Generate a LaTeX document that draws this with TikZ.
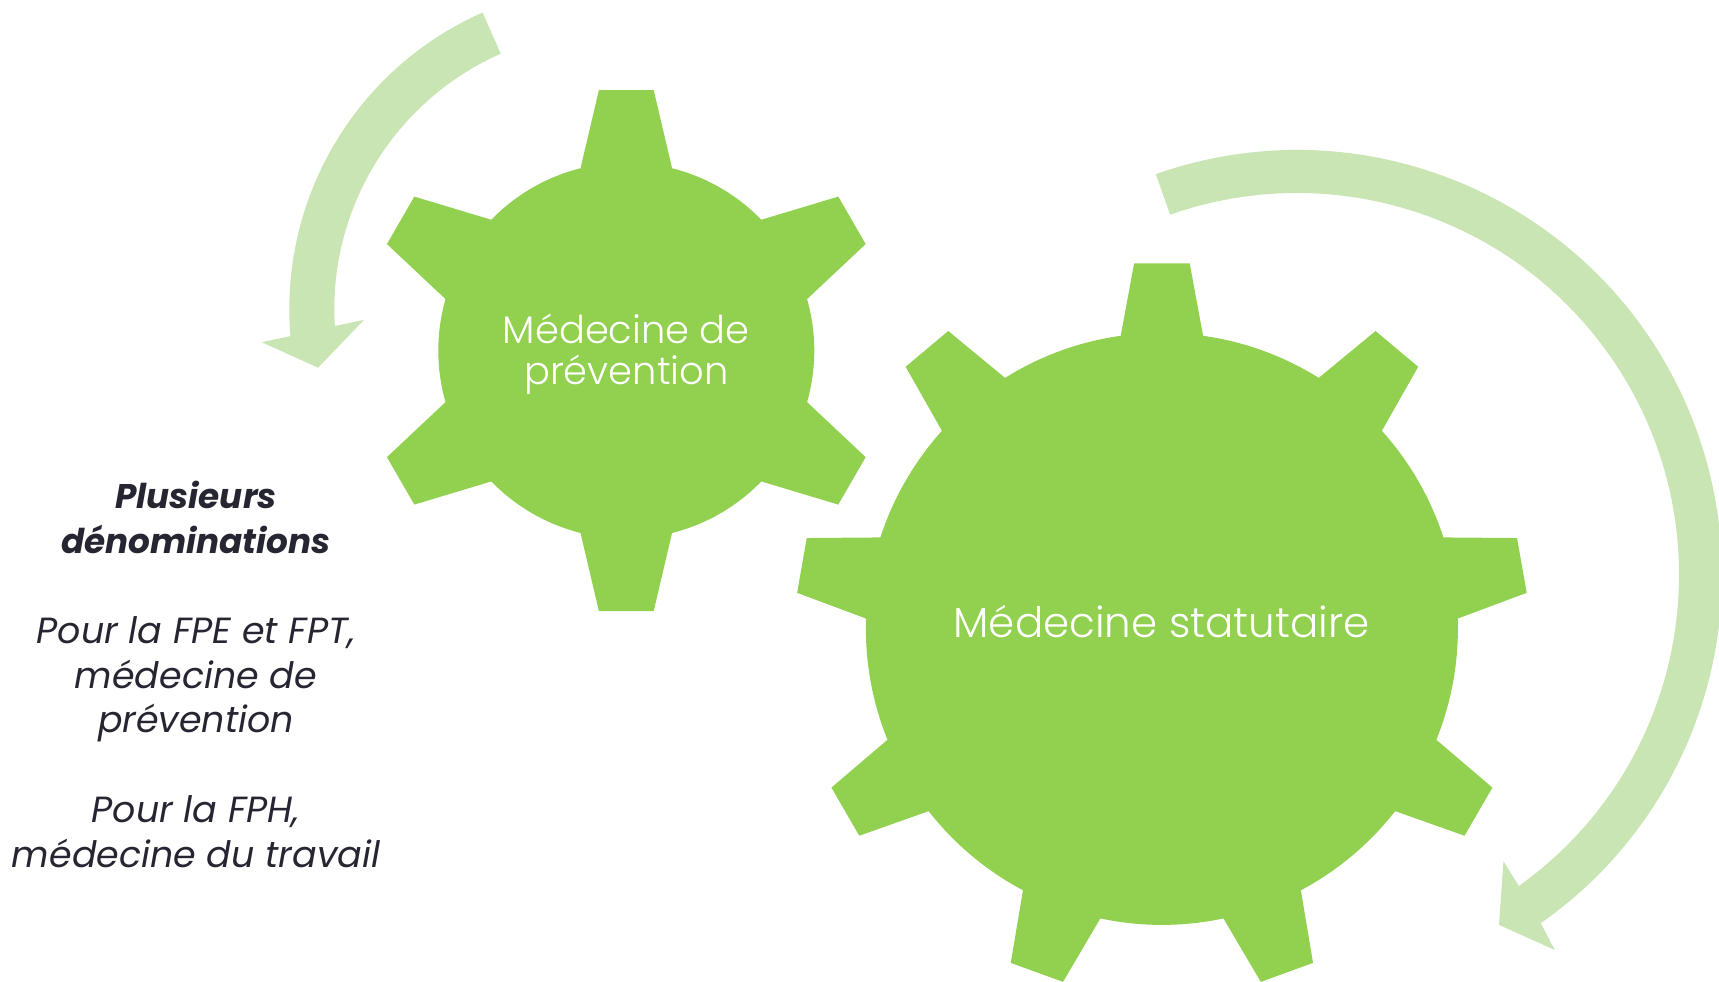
\documentclass[tikz,border=0pt]{standalone}
\usepackage{fontspec}
\setmainfont{Poppins}
\newfontfamily\gearfont{Poppins Light}
\usetikzlibrary{calc}

\definecolor{geargreen}{RGB}{146,208,80}
\definecolor{cyclegreen}{RGB}{200,229,179}
\definecolor{notetext}{RGB}{38,38,50}

\begin{document}
\begin{tikzpicture}[x=0.5pt, y=0.5pt,
    gear/.style = {fill=geargreen},
    cycle arrow/.style = {fill=cyclegreen},
    gear label/.style = {text=white, align=center,
        font=\gearfont\fontsize{21}{20.85}\selectfont},
    note/.style = {text=notetext, align=center,
        font=\itshape\fontsize{18.2}{22.4}\selectfont}]
  \useasboundingbox (0,0) rectangle (1719,981);
  \clip (0,0) rectangle (1719,981);

  \coordinate (small) at (626.3,630.4);
  \coordinate (big) at (1161.9,352.1);
  \coordinate (leftturn) at (613.3,672);
  \coordinate (rightturn) at (1297,406);

  \fill[cycle arrow, shift={(leftturn)}] (113.8:324)
    arc[start angle=113.8, end angle=184.8, radius=324]
    -- (185.4:353) -- (191.25:301) -- (182.5:249.5) -- (183.5:279)
    arc[start angle=183.5, end angle=113.8, radius=279] -- cycle;
  \fill[cycle arrow, shift={(rightturn)}] (109.4:425)
    arc[start angle=109.4, end angle=-55, radius=425]
    -- (-55.5:455) -- (-60:404) -- (-54.2:353) -- (-54.5:382)
    arc[start angle=-54.5, end angle=109.4, radius=382] -- cycle;

  \fill[gear, shift={(small)}] (75.9:188)
    \foreach \a in {90,150,...,390} {
      -- (\a-6:262) -- (\a+6:262) -- (\a+14.1:188)
      arc[start angle=\a+14.1, end angle=\a+45.9, radius=188] } -- cycle;
  \fill[gear, shift={(big)}] (82:296)
    \foreach \a in {90,130,...,410} {
      -- (\a-4.35:366.6) -- (\a+4.35:366.6) -- (\a+8:296)
      arc[start angle=\a+8, end angle=\a+32, radius=296] } -- cycle;

  \node[gear label, font=\gearfont\fontsize{19.2}{20.85}\selectfont] (smalllabel)
    at (626.3,626.9) {Médecine de\\prévention};
  \node[gear label] (biglabel) at (1161.6,359.4) {Médecine statutaire};
  \node[note] (names) at (196,306.5) {\bfseries\fontsize{17.1}{22.4}\selectfont Plusieurs\\
    \bfseries\fontsize{17.1}{22.4}\selectfont dénominations\\[22.4pt]
    Pour la FPE et FPT,\\médecine de\\prévention\\[22.4pt]
    Pour la FPH,\\médecine du travail};
\end{tikzpicture}
\end{document}
